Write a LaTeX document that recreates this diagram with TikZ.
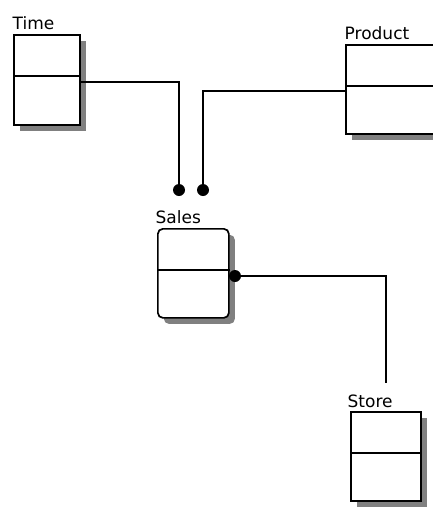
\documentclass[tikz,border=0pt]{standalone}
\usepackage{fontspec}
\setmainfont{DejaVu Sans}
\usetikzlibrary{positioning,shadows}
\tikzset{
  tbl/.style={draw, line width=1.7pt, fill=white, inner sep=0pt,
              anchor=north west, minimum height=89pt,
              general shadow={fill=black!50, shadow xshift=6pt, shadow yshift=-6pt}},
  lbl/.style={font=\fontsize{17}{19}\selectfont, inner sep=0.5pt},
  conn/.style={line width=1.7pt},
  dot/.style={circle, fill=black, inner sep=0pt, minimum size=12pt},
}
\begin{document}
\begin{tikzpicture}[x=1pt,y=-1pt]
    \clip (0,0) rectangle (433,509);
    \fill[white] (0,0) rectangle (433,509);
    % tables
    \node[tbl,minimum width=66pt,minimum height=90pt] (time) at (13,34) {};
    \node[tbl,minimum width=95pt] (product) at (345,44) {};
    \node[tbl,minimum width=71pt,rounded corners=5pt] (sales) at (157,228) {};
    \node[tbl,minimum width=70pt] (store) at (350,411) {};
    \foreach \t in {time,product,sales,store}
      \draw[conn] ([yshift=-42pt]\t.north west) -- ([yshift=-42pt]\t.north east);
    % names
    \node[lbl,above right=4pt and -1pt of time.north west] (timelbl) {Time};
    \node[lbl,above right=4pt and -1pt of product.north west] (productlbl) {Product};
    \node[lbl,above right=4pt and -2pt of sales.north west] (saleslbl) {Sales};
    \node[lbl,above right=3pt and -3pt of store.north west] (storelbl) {Store};
    % joins
    \node[dot] (dott) at (179,190) {};
    \node[dot] (dotp) at (203,190) {};
    \node[dot] (dots) at (235,276) {};
    \draw[conn] ([yshift=-2pt]time.east) -| (dott);
    \draw[conn] ([yshift=-1.5pt]product.west) -| (dotp);
    \draw[conn] (dots) -| ([yshift=28pt]store.north);
\end{tikzpicture}
\end{document}
